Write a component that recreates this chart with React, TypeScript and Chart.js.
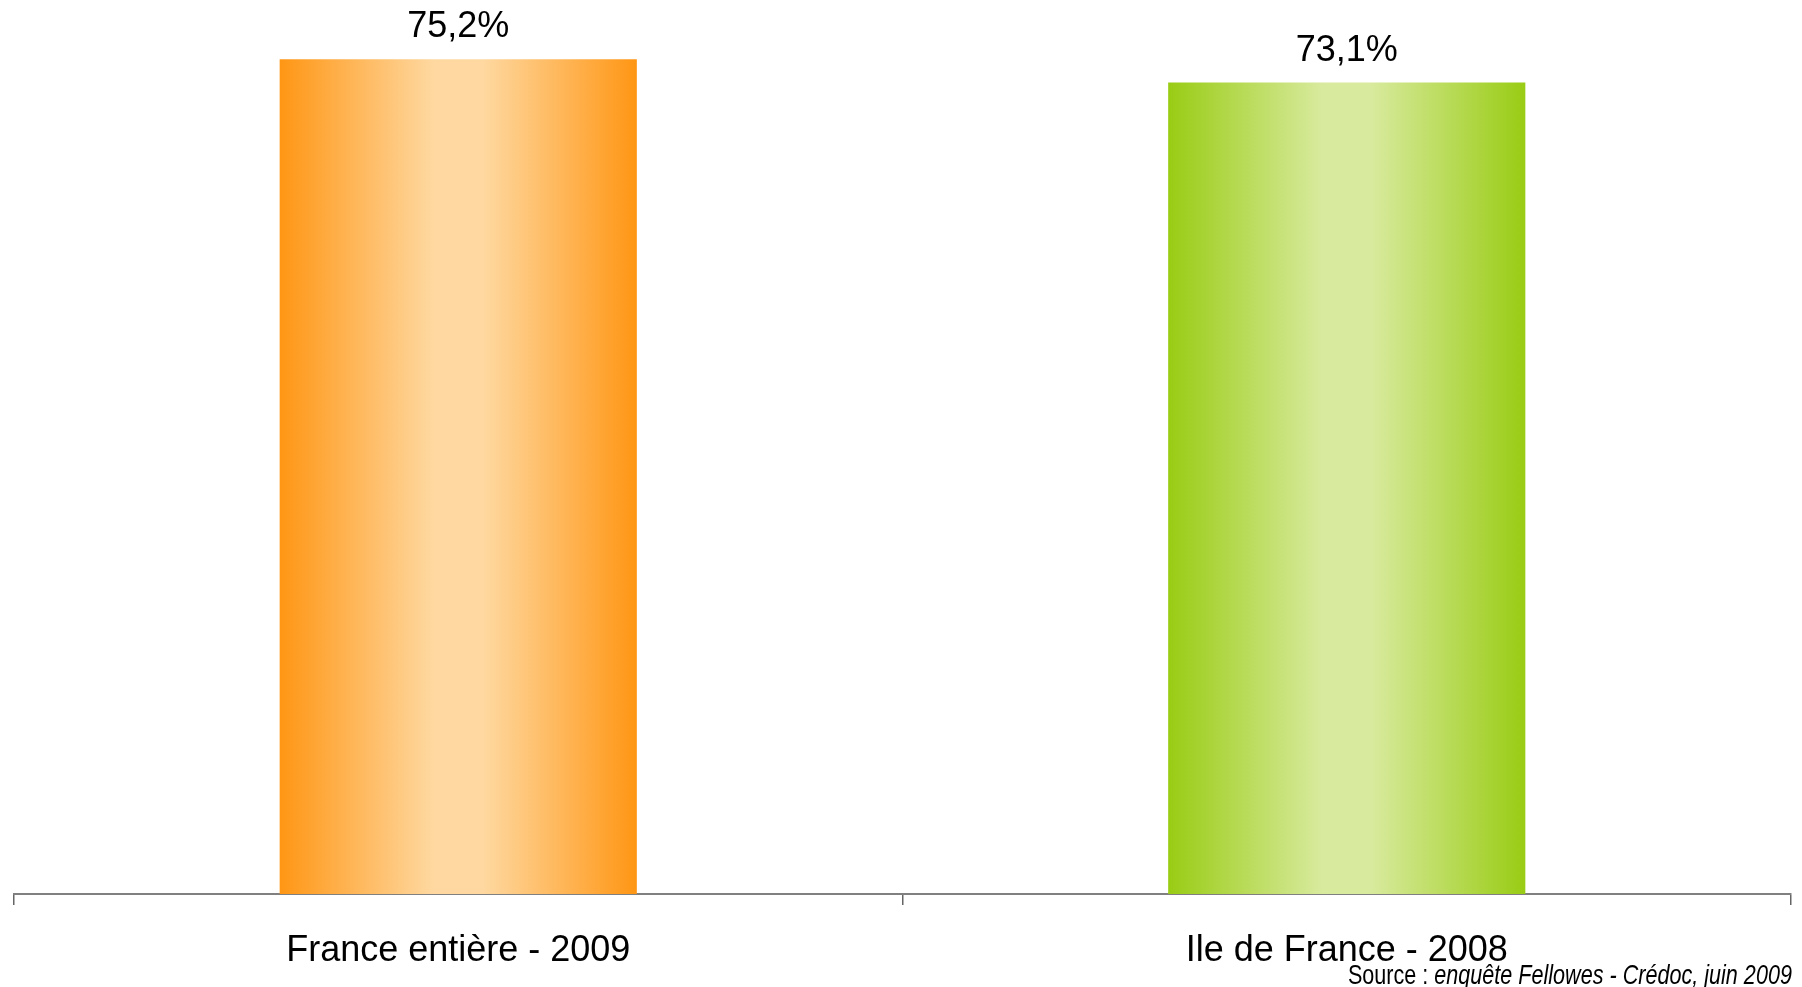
import React, { useEffect, useLayoutEffect, useRef } from "react";
import { Chart, registerables } from "chart.js";

Chart.register(...registerables);

const categories = ["France entière - 2009", "Ile de France - 2008"];
const values = [75.2, 73.1];
const valueLabels = ["75,2%", "73,1%"];
const edgeColors = ["#FF9614", "#99CC14"];
const centerColors = ["#FED8A0", "#D8EA9D"];
const yMax = 80;
const sourcePrefix = "Source : ";
const sourceText = "enquête Fellowes - Crédoc, juin 2009";

const BAR_FRAC = 0.402;
const SOURCE_WIDTH = 444;

const valueLabelPlugin = {
  id: "valueLabels",
  afterDatasetsDraw(chart: any) {
    const { ctx } = chart;
    const meta = chart.getDatasetMeta(0);
    ctx.save();
    ctx.fillStyle = "#000";
    ctx.font = "36px 'Liberation Sans', Arial, sans-serif";
    ctx.textAlign = "center";
    ctx.textBaseline = "alphabetic";
    meta.data.forEach((el: any, i: number) => {
      ctx.fillText(valueLabels[i], el.x, el.y - 22);
    });
    ctx.restore();
  },
};

export default function App() {
  const ref = useRef<HTMLCanvasElement>(null);
  const srcRef = useRef<HTMLSpanElement>(null);

  useLayoutEffect(() => {
    const el = srcRef.current;
    if (!el) return;
    el.style.transform = "none";
    const w = el.getBoundingClientRect().width;
    if (w > 0) el.style.transform = `scaleX(${SOURCE_WIDTH / w})`;
  }, []);

  useEffect(() => {
    const chart = new Chart(ref.current!, {
      type: "bar",
      data: {
        labels: categories,
        datasets: [
          {
            data: values,
            borderWidth: 0,
            barPercentage: BAR_FRAC,
            categoryPercentage: 1,
            backgroundColor: (c: any) => {
              const ch = c.chart;
              const xs = ch.scales && ch.scales.x;
              const i = c.dataIndex ?? 0;
              if (!xs || !ch.chartArea) return edgeColors[i];
              const cx = xs.getPixelForValue(i);
              const half = ((xs.width / categories.length) * BAR_FRAC) / 2;
              const g = ch.ctx.createLinearGradient(cx - half, 0, cx + half, 0);
              g.addColorStop(0, edgeColors[i]);
              g.addColorStop(0.43, centerColors[i]);
              g.addColorStop(0.57, centerColors[i]);
              g.addColorStop(1, edgeColors[i]);
              return g;
            },
          },
        ],
      },
      options: {
        responsive: false,
        animation: false,
        layout: { padding: { top: 6, left: 14, right: 11, bottom: 0 } },
        plugins: { legend: { display: false }, tooltip: { enabled: false } },
        scales: {
          x: {
            grid: {
              display: true,
              drawOnChartArea: false,
              drawTicks: true,
              tickLength: 11,
              color: "#666666",
              lineWidth: 1.5,
              offset: true,
            },
            border: { display: true, color: "#808080", width: 2 },
            ticks: {
              color: "#000",
              font: { family: "'Liberation Sans', Arial, sans-serif", size: 36 },
              padding: 24,
            },
            afterFit: (s: any) => {
              s.height = 93;
            },
          },
          y: { display: false, min: 0, max: yMax },
        },
      },
      plugins: [valueLabelPlugin],
    } as any);
    return () => chart.destroy();
  }, []);

  return (
    <div style={{ position: "fixed", left: 0, top: 0, width: 1802, height: 987, background: "#fff" }}>
      <canvas ref={ref} width={1802} height={987} style={{ display: "block", width: 1802, height: 987 }} />
      <span
        ref={srcRef}
        style={{
          position: "absolute",
          right: 10,
          top: 961,
          display: "inline-block",
          transformOrigin: "right top",
          fontFamily: "'Liberation Sans', Arial, sans-serif",
          fontSize: 28,
          lineHeight: 1,
          color: "#000",
          whiteSpace: "nowrap",
        }}
      >
        {sourcePrefix}
        <span style={{ fontStyle: "italic" }}>{sourceText}</span>
      </span>
    </div>
  );
}
